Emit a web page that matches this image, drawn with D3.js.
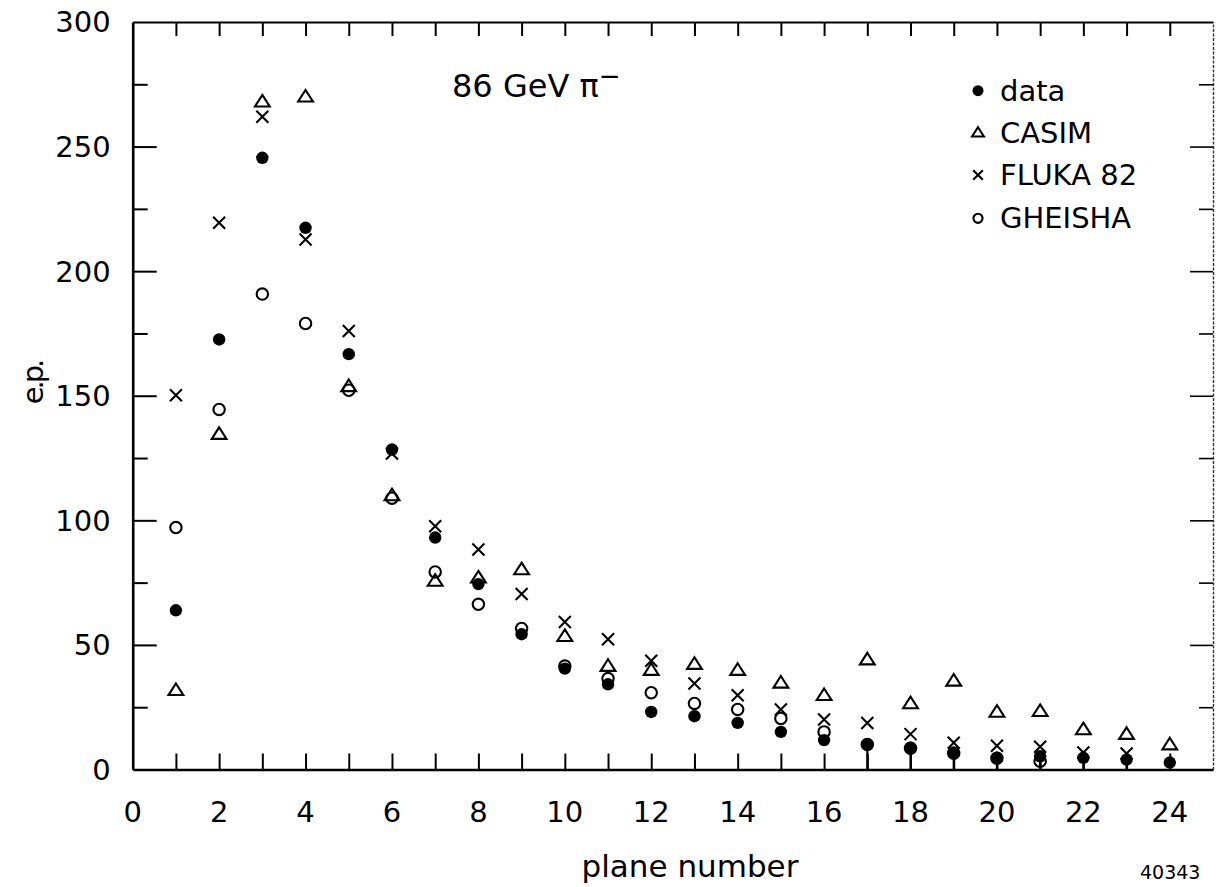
<!DOCTYPE html>
<html>
<head>
<meta charset="utf-8">
<script src="https://cdn.jsdelivr.net/npm/d3@7"></script>
<style>
  html, body { margin: 0; padding: 0; background: #fff; }
  svg { display: block; }
  text { font-family: "DejaVu Sans", sans-serif; fill: #000; }
</style>
</head>
<body>
<svg id="chart" width="1223" height="887"></svg>
<script>
// Energy deposit (e.p.) per calorimeter plane, 86 GeV pi- showers
const planes = d3.range(1, 25);

const dataVals = [63.9, 172.6, 245.5, 217.4, 166.7, 128.4, 93.1, 74.4, 54.3, 40.5, 34.2, 23.1,
                  21.4, 18.7, 15.1, 11.8, 10.2, 8.7, 6.7, 4.7, 5.3, 4.7, 4.0, 2.8];
// planes whose measured point carries a downward error bar reaching zero
const errPlanes = [17, 18, 19, 20, 21, 22, 23];

const casimVals = [31.8, 134.6, 268, 270, 153.8, 110, 75.7, 77, 80.3, 53.5, 41.5, 39.9,
                   42.3, 39.9, 34.8, 29.8, 44.1, 26.5, 35.6, 23.1, 23.4, 16.1, 14.2, 10];

const flukaVals = [150.2, 219.4, 262, 212.7, 176, 126.8, 97.6, 88.3, 70.4, 59.2, 52.3, 43.6,
                   34.5, 29.8, 24.1, 20.1, 18.7, 14.2, 10.7, 9.5, 9.1, 6.8, 6.4];

const gheishaVals = [97.1, 144.5, 190.8, 179, 152.2, 108.9, 79.3, 66.3, 56.6, 41.5, 36.5, 30.8,
                     26.5, 24.1, 20.5, 15.1, 10, 8.5, 6.5, 4.5, 3.3];

const xLabelTicks = d3.range(0, 25, 2);
const yLabelTicks = d3.range(0, 301, 50);

const legendItems = [
  { key: "data", label: "data" },
  { key: "casim", label: "CASIM" },
  { key: "fluka", label: "FLUKA 82" },
  { key: "gheisha", label: "GHEISHA" }
];

const svg = d3.select("#chart");
const x = d3.scaleLinear().domain([0, 25]).range([132.7, 1213]);
const y = d3.scaleLinear().domain([0, 300]).range([769.5, 22]);

const toPts = vals => vals.map((v, i) => ({ p: planes[i], v }));

// ---------- marker shapes ----------
const shapes = {
  data: g => g.append("circle").attr("r", 6.2).attr("fill", "#000"),
  casim: (g, s = 1) => g.append("path")
      .attr("d", `M0,${-6.8 * s}L${7.4 * s},${4.8 * s}L${-7.4 * s},${4.8 * s}Z`)
      .attr("fill", "none").attr("stroke", "#000").attr("stroke-width", 2.1),
  fluka: (g, s = 1) => g.append("path")
      .attr("d", `M${-6 * s},${-6 * s}L${6 * s},${6 * s}M${6 * s},${-6 * s}L${-6 * s},${6 * s}`)
      .attr("fill", "none").attr("stroke", "#000").attr("stroke-width", 2.1),
  gheisha: (g, s = 1) => g.append("circle").attr("r", 5.7 * s)
      .attr("fill", "none").attr("stroke", "#000").attr("stroke-width", 2.1)
};

// ---------- axes ----------
const axisStyle = (g, width) => {
  g.select(".domain").attr("stroke", "#000").attr("stroke-width", width);
  g.selectAll(".tick line").attr("stroke", "#000").attr("stroke-width", 2);
};

// bottom
const gBottom = svg.append("g").attr("transform", `translate(0,${y(0)})`)
  .call(d3.axisBottom(x).tickValues(planes).tickSizeInner(-16).tickSizeOuter(0)
        .tickFormat(() => ""));
axisStyle(gBottom, 2.6);
svg.append("g").selectAll("text").data(xLabelTicks).join("text")
  .attr("x", d => x(d)).attr("y", y(0) + 52.5)
  .attr("text-anchor", "middle").attr("font-size", 29)
  .text(d => d);

// top
const gTop = svg.append("g").attr("transform", `translate(0,${y(300)})`)
  .call(d3.axisTop(x).tickValues(planes).tickSizeInner(-14).tickSizeOuter(0)
        .tickFormat(() => ""));
axisStyle(gTop, 2);

// left
const yTicks = d3.range(0, 301, 25);
const gLeft = svg.append("g").attr("transform", `translate(${x(0)},0)`)
  .call(d3.axisLeft(y).tickValues(yTicks).tickSizeInner(-24).tickSizeOuter(0)
        .tickFormat(() => ""));
axisStyle(gLeft, 2.6);
gLeft.selectAll(".tick line").attr("x2", d => d % 50 === 0 ? 24 : 15);
gLeft.selectAll(".tick").filter(d => d === 0 || d === 300).remove();
svg.append("g").selectAll("text").data(yLabelTicks).join("text")
  .attr("x", x(0) - 22).attr("y", d => y(d)).attr("dy", "0.36em")
  .attr("text-anchor", "end").attr("font-size", 29)
  .text(d => d);

// right (faint, broken frame line)
const gRight = svg.append("g").attr("transform", `translate(${x(25)},0)`)
  .call(d3.axisRight(y).tickValues(yTicks.filter(d => d > 0 && d < 300))
        .tickSizeInner(-22).tickSizeOuter(0).tickFormat(() => ""));
axisStyle(gRight, 1.4);
gRight.select(".domain").attr("stroke-dasharray", "3,1.5").attr("stroke", "#333");
gRight.selectAll(".tick line").attr("x2", d => d % 50 === 0 ? -23 : -14).attr("stroke-width", 1.6);

// ---------- axis titles ----------
svg.append("text").attr("x", 690).attr("y", 877)
  .attr("text-anchor", "middle").attr("font-size", 31)
  .text("plane number");

svg.append("text")
  .attr("transform", `translate(43,383) rotate(-90)`)
  .attr("text-anchor", "middle").attr("font-size", 29).attr("letter-spacing", -3)
  .text("e.p.");

// ---------- annotation ----------
const ann = svg.append("text").attr("x", 452).attr("y", 96.5).attr("font-size", 32);
ann.append("tspan").text("86 GeV π");
ann.append("tspan").attr("dy", -12).attr("font-size", 26).text("−");

svg.append("text").attr("x", 1140).attr("y", 879).attr("font-size", 19).text("40343");

// ---------- points ----------
const plot = svg.append("g");

// error bars on the last measured planes
plot.append("g").selectAll("line")
  .data(errPlanes.map(p => ({ p, v: dataVals[p - 1] })))
  .join("line")
  .attr("x1", d => x(d.p)).attr("x2", d => x(d.p))
  .attr("y1", d => y(d.v)).attr("y2", y(0))
  .attr("stroke", "#000").attr("stroke-width", 2.2);

const drawSeries = (key, vals) => {
  const g = plot.append("g").attr("class", key);
  g.selectAll("g").data(toPts(vals)).join("g")
    .attr("transform", d => `translate(${x(d.p)},${y(d.v)})`)
    .each(function () { shapes[key](d3.select(this)); });
};
drawSeries("gheisha", gheishaVals);
drawSeries("data", dataVals);
drawSeries("casim", casimVals);
drawSeries("fluka", flukaVals);

// ---------- legend ----------
const legend = svg.append("g").attr("transform", "translate(978,0)");
const rowBase = [100.7, 142.7, 185, 228.3];
legendItems.forEach((it, i) => {
  const row = legend.append("g").attr("transform", `translate(0,${rowBase[i]})`);
  const m = row.append("g").attr("transform", "translate(0,-10)");
  if (it.key === "data") shapes.data(m).attr("r", 5.5);
  else shapes[it.key](m, 0.8);
  row.append("text").attr("x", 22).attr("y", 0).attr("font-size", 29).text(it.label);
});
</script>
</body>
</html>
